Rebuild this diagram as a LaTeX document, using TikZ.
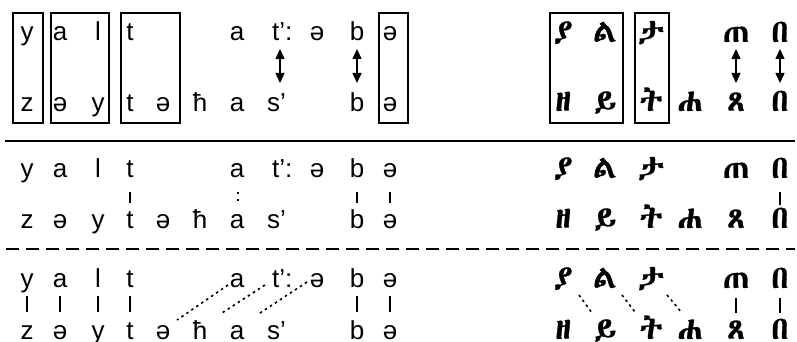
\documentclass[tikz,border=0pt]{standalone}
\usepackage{fontspec}
\setmainfont{Liberation Sans}
\usetikzlibrary{arrows.meta}
\newfontfamily\ethfont[FakeBold=0.9]{Abyssinica SIL}
\begin{document}
\begin{tikzpicture}[x=1pt,y=-1pt,
  lat/.style={inner sep=0pt, anchor=base, font=\fontsize{26}{30}\selectfont},
  latw/.style={lat, anchor=base west},
  eth/.style={inner sep=0pt, anchor=base, font=\ethfont\fontsize{32}{36}\selectfont},
  boxst/.style={draw, line width=1.1pt},
  dbl/.style={line width=1.4pt, {Triangle[width=9pt,length=10pt]}-{Triangle[width=9pt,length=10pt]}},
  vline/.style={line width=1.2pt},
  dotl/.style={line width=1.6pt, dash pattern=on 2.5pt off 3.5pt}]
\useasboundingbox (0,0) rectangle (797,342);
% ---------- panel 1 ----------
\foreach \n/\x/\t in {1/27/y,2/60/a,3/98/l,4/130/t,7/237/a,9/317/ə,10/357/b,11/390/ə}
  \node[lat] (p1t\n) at (\x,41) {\t};
\node[latw] (p1t8) at (272,41) {t’:};
\foreach \n/\x/\t in {1/27/z,2/60/ə,3/98/y,4/130/t,5/163/ə,6/200/ħ,7/237/a,10/357/b,11/390/ə}
  \node[lat] (p1b\n) at (\x,111) {\t};
\node[latw] (p1b8) at (267,111) {s’};
\foreach \n/\x/\t in {1/563/ያ,2/605/ል,3/651/ታ,5/736/ጠ,6/780/በ}
  \node[eth] (p1e\n) at (\x,42) {\t};
\foreach \n/\x/\t in {1/563/ዘ,2/605/ይ,3/651/ት,4/690/ሐ,5/736/ጸ,6/780/በ}
  \node[eth] (p1f\n) at (\x,111) {\t};
\draw[boxst] (13,13) rectangle (43,123);
\draw[boxst] (51,13) rectangle (109,123);
\draw[boxst] (121,13) rectangle (180,123);
\draw[boxst] (379,13) rectangle (408,123);
\draw[boxst] (550,13) rectangle (623,123);
\draw[boxst] (635,13) rectangle (669,123);
\draw[dbl] ([shift={(8,8)}]p1t8.base west) -- ([shift={(13,-28)}]p1b8.base west);
\draw[dbl] ([shift={(0,8)}]p1t10.base) -- ([shift={(0,-28)}]p1b10.base);
\draw[dbl] ([shift={(0,7)}]p1e5.base) -- ([shift={(0,-28)}]p1f5.base);
\draw[dbl] ([shift={(0,7)}]p1e6.base) -- ([shift={(0,-28)}]p1f6.base);
\draw[line width=2.5pt] (5,141) -- (795,141);
% ---------- panel 2 ----------
\foreach \n/\x/\t in {1/27/y,2/60/a,3/98/l,4/130/t,7/237/a,9/317/ə,10/357/b,11/390/ə}
  \node[lat] (p2t\n) at (\x,177) {\t};
\node[latw] (p2t8) at (272,177) {t’:};
\foreach \n/\x/\t in {1/27/z,2/60/ə,3/98/y,4/130/t,5/163/ə,6/200/ħ,7/237/a,10/357/b,11/390/ə}
  \node[lat] (p2b\n) at (\x,228) {\t};
\node[latw] (p2b8) at (267,228) {s’};
\foreach \n/\x/\t in {1/563/ያ,2/605/ል,3/651/ታ,5/736/ጠ,6/780/በ}
  \node[eth] (p2e\n) at (\x,178) {\t};
\foreach \n/\x/\t in {1/563/ዘ,2/605/ይ,3/651/ት,4/690/ሐ,5/736/ጸ,6/780/በ}
  \node[eth] (p2f\n) at (\x,228) {\t};
\foreach \n in {4,10,11}
  \draw[vline, shorten <=15pt, shorten >=25pt] (p2t\n.base) -- (p2b\n.base);
\draw[vline, shorten <=14pt, shorten >=23pt] (p2e6.base) -- (p2f6.base);
\draw[line width=1.4pt, dash pattern=on 2pt off 5pt, shorten <=15pt, shorten >=25pt] ([xshift=1pt]p2t7.base) -- ([xshift=1pt]p2b7.base);
\draw[line width=1.4pt, dash pattern=on 13pt off 7pt] (6,249) -- (795,249);
% ---------- panel 3 ----------
\foreach \n/\x/\t in {1/27/y,2/60/a,3/98/l,4/130/t,7/237/a,9/317/ə,10/357/b,11/390/ə}
  \node[lat] (p3t\n) at (\x,287) {\t};
\node[latw] (p3t8) at (272,287) {t’:};
\foreach \n/\x/\t in {1/27/z,2/60/ə,3/98/y,4/130/t,5/163/ə,6/200/ħ,7/237/a,10/357/b,11/390/ə}
  \node[lat] (p3b\n) at (\x,339) {\t};
\node[latw] (p3b8) at (267,339) {s’};
\foreach \n/\x/\t in {1/563/ያ,2/605/ል,3/651/ታ,5/736/ጠ,6/780/በ}
  \node[eth] (p3e\n) at (\x,288) {\t};
\foreach \n/\x/\t in {1/563/ዘ,2/605/ይ,3/651/ት,4/690/ሐ,5/736/ጸ,6/780/በ}
  \node[eth] (p3f\n) at (\x,339) {\t};
\foreach \n in {1,2,3,4,10,11}
  \draw[vline, shorten <=9pt, shorten >=27pt] (p3t\n.base) -- (p3b\n.base);
\foreach \n in {5,6}
  \draw[vline, shorten <=10pt, shorten >=26pt] (p3e\n.base) -- (p3f\n.base);
\draw[dotl] ([shift={(-9,-2)}]p3t7.base) -- ([shift={(14,-19)}]p3b5.base);
\draw[dotl] ([shift={(-7,-2)}]p3t8.base west) -- ([shift={(22,-26)}]p3b6.base);
\draw[dotl] ([shift={(-10,-5)}]p3t9.base) -- ([shift={(20,-24)}]p3b7.base);
\draw[dotl] ([shift={(16,7)}]p3e1.base) -- ([shift={(-13,-26)}]p3f2.base);
\draw[dotl] ([shift={(17,7)}]p3e2.base) -- ([shift={(-16,-27)}]p3f3.base);
\draw[dotl] ([shift={(16,7)}]p3e3.base) -- ([shift={(-8,-26)}]p3f4.base);
\end{tikzpicture}
\end{document}
